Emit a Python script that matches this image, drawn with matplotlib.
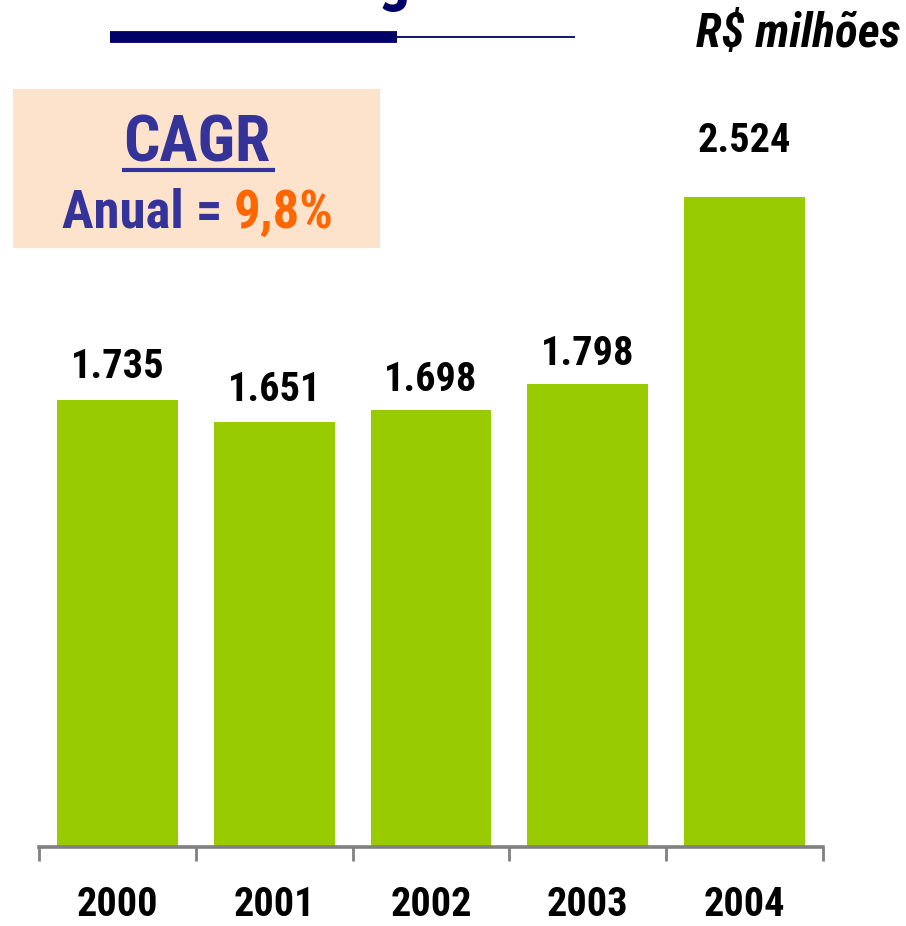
import matplotlib.pyplot as plt
from matplotlib.lines import Line2D
from matplotlib.patches import Rectangle

# Data
years = ['2000', '2001', '2002', '2003', '2004']
values = [1735, 1651, 1698, 1798, 2524]
value_labels = ['1.735', '1.651', '1.698', '1.798', '2.524']
label_pad = [22, 21, 19, 19, 45]  # px gap between bar top and label baseline

W, H = 906, 926
NARROW = ['Roboto Condensed', 'Archivo Narrow', 'DejaVu Sans']


def fx(px):
    return px / W


def fy(py):
    return 1 - py / H


fig = plt.figure(figsize=(W / 100, H / 100), dpi=100)

# plot area: x from 39 to 823 px, baseline at 847 px
ax = fig.add_axes([fx(39), fy(847), fx(823) - fx(39), fy(100) - fy(847)])
ymax = (847 - 100) / 0.2575
ax.bar(range(len(years)), values, width=0.77, color='#99CC00', zorder=2)
ax.set_xlim(-0.5, len(years) - 0.5)
ax.set_ylim(0, ymax)

for i, (v, lab) in enumerate(zip(values, value_labels)):
    ax.annotate(lab, (i, v), xytext=(0, label_pad[i] * 0.72), textcoords='offset points',
                ha='center', va='baseline', fontsize=29, fontweight='bold',
                family=NARROW, color='black')

for s in ['top', 'right', 'left']:
    ax.spines[s].set_visible(False)
ax.spines['bottom'].set_color('#808080')
ax.spines['bottom'].set_linewidth(2.6)
ax.set_yticks([])
ax.set_xticks(range(len(years)))
ax.set_xticklabels(years, fontsize=29, fontweight='bold', family=NARROW)
ax.tick_params(axis='x', which='major', length=0, pad=28)
ax.set_xticks([i - 0.5 for i in range(len(years) + 1)], minor=True)
ax.tick_params(axis='x', which='minor', length=10, width=2, color='#808080', direction='out')

# title rule (title itself is cut off at the top)
fig.add_artist(Line2D([fx(110), fx(397)], [fy(37), fy(37)], color='#000066',
                      linewidth=8.5, solid_capstyle='butt'))
fig.add_artist(Line2D([fx(397), fx(575)], [fy(37), fy(37)], color='#000066',
                      linewidth=1.3, solid_capstyle='butt'))
fig.text(fx(394), fy(-1), 'g', ha='center', va='baseline', fontsize=46,
         fontweight='bold', family=NARROW, color='#000066')

fig.text(fx(900), fy(47), 'R$ milhões', ha='right', va='baseline', fontsize=34,
         fontweight='bold', style='italic', family=NARROW, color='black')

# CAGR box
fig.add_artist(Rectangle((fx(13), fy(248)), fx(380) - fx(13), fy(89) - fy(248),
                         transform=fig.transFigure, facecolor='#FDE3CB',
                         edgecolor='none'))
fig.text(fx(197), fy(162), 'CAGR', ha='center', va='baseline', fontsize=46,
         fontweight='bold', family=NARROW, color='#333399')
fig.add_artist(Line2D([fx(122), fx(275)], [fy(170), fy(170)], color='#333399',
                      linewidth=3, solid_capstyle='butt'))
fig.text(fx(222), fy(228), 'Anual =', ha='right', va='baseline', fontsize=38,
         fontweight='bold', family=NARROW, color='#333399')
fig.text(fx(234), fy(228), '9,8%', ha='left', va='baseline', fontsize=38,
         fontweight='bold', family=NARROW, color='#FF6600')

fig.savefig('out.png', dpi=100)
